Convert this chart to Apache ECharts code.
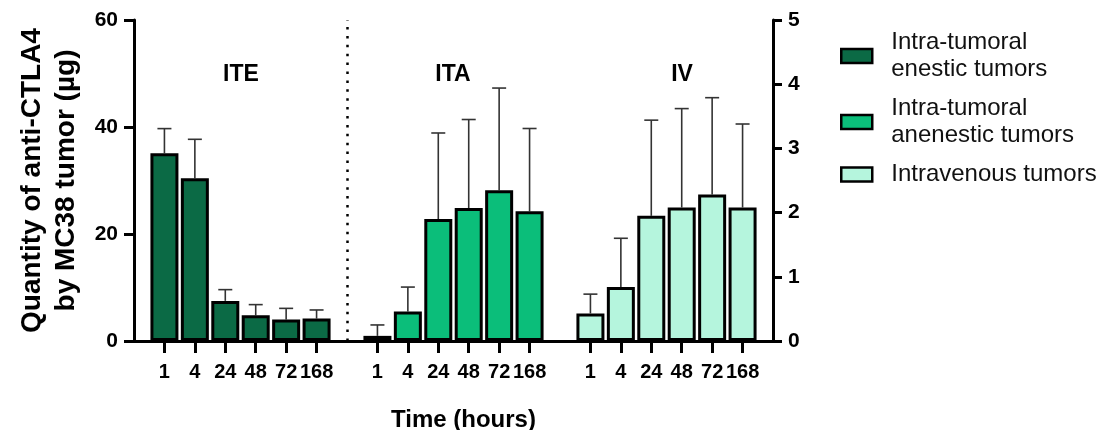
<!DOCTYPE html>
<html>
<head>
<meta charset="utf-8">
<script src="https://cdn.jsdelivr.net/npm/echarts@6/dist/echarts.min.js"></script>
<style>
  html, body { margin: 0; padding: 0; background: #fff; }
  #chart { width: 1104px; height: 430px; }
</style>
</head>
<body>
<div id="chart"></div>
<script>
// time points (hours), repeated for each group with an empty slot in between
const hours = ['1', '4', '24', '48', '72', '168'];
const groups = ['ITE', 'ITA', 'IV'];
const seriesNames = ['Intra-tumoral\nenestic tumors', 'Intra-tumoral\nanenestic tumors', 'Intravenous tumors'];

// ITE on left axis (0-60), ITA and IV on right axis (0-5)
const iteMean = [35.1, 30.4, 7.5, 4.8, 4.0, 4.2];
const iteSd   = [4.6, 7.3, 2.1, 2.0, 2.1, 1.6];
const itaMean = [0.08, 0.46, 1.90, 2.07, 2.35, 2.02];
const itaSd   = [0.17, 0.38, 1.34, 1.38, 1.59, 1.29];
const ivMean  = [0.43, 0.84, 1.95, 2.08, 2.28, 2.08];
const ivSd    = [0.30, 0.76, 1.49, 1.54, 1.51, 1.30];

const leftTicks = [0, 20, 40, 60];
const rightTicks = [0, 1, 2, 3, 4, 5];

const colors = ['#0b6a45', '#0bbe7a', '#b5f5dd'];
const FONT = 'Liberation Sans, Arial, sans-serif';

// category layout: '' | ITE x6 | '' | ITA x6 | '' | IV x6 | ''
let cats = [''];
const offsets = [];
groups.forEach(function (g) {
    offsets.push(cats.length);
    cats = cats.concat(hours);
    cats.push('');
});

function barData(vals, off) {
    const arr = cats.map(function () { return '-'; });
    vals.forEach(function (v, i) { arr[off + i] = v; });
    return arr;
}
function errData(mean, sd, off) {
    return mean.map(function (m, i) { return [off + i, m, +(m + sd[i]).toFixed(3)]; });
}

function renderErr(params, api) {
    const x = api.value(0);
    const p0 = api.coord([x, api.value(1)]);
    const p1 = api.coord([x, api.value(2)]);
    const st = { stroke: '#333', lineWidth: 1.6 };
    return {
        type: 'group',
        children: [
            { type: 'line', shape: { x1: p0[0], y1: p0[1], x2: p1[0], y2: p1[1] }, style: st },
            { type: 'line', shape: { x1: p1[0] - 7, y1: p1[1], x2: p1[0] + 7, y2: p1[1] }, style: st }
        ]
    };
}

const chart = echarts.init(document.getElementById('chart'), null, { renderer: 'canvas' });

const option = {
    animation: false,
    backgroundColor: '#fff',
    textStyle: { fontFamily: FONT },
    grid: { left: 134, right: 331, top: 20, bottom: 89, containLabel: false, outerBoundsMode: 'none' },
    legend: {
        orient: 'vertical',
        left: 835,
        top: 24,
        icon: 'rect',
        itemWidth: 31,
        itemHeight: 14,
        itemGap: 12,
        selectedMode: false,
        data: seriesNames,
        itemStyle: { borderColor: '#000', borderWidth: 2.5 },
        textStyle: { fontFamily: FONT, fontSize: 24, color: '#111', lineHeight: 27, padding: [0, 0, 0, 14] }
    },
    xAxis: {
        type: 'category',
        data: cats,
        boundaryGap: false,
        name: 'Time (hours)',
        nameLocation: 'middle',
        nameGap: 67,
        nameTextStyle: { fontFamily: FONT, fontSize: 24, fontWeight: 'bold', color: '#000', padding: [0, 0, 0, 20] },
        axisLine: { lineStyle: { color: '#000', width: 3 } },
        axisTick: {
            interval: function (i, v) { return v !== ''; },
            length: 12,
            lineStyle: { color: '#000', width: 3 }
        },
        axisLabel: {
            interval: 0,
            margin: 21,
            fontFamily: FONT, fontSize: 20, fontWeight: 'bold', color: '#000'
        },
        splitLine: { show: false }
    },
    yAxis: [
        {
            type: 'value',
            min: leftTicks[0], max: leftTicks[leftTicks.length - 1], interval: 20,
            name: 'Quantity of anti-CTLA4\nby MC38 tumor (µg)',
            nameLocation: 'middle',
            nameGap: 48,
            nameTextStyle: { fontFamily: FONT, fontSize: 28, fontWeight: 'bold', color: '#000', lineHeight: 34 },
            axisLine: { show: true, lineStyle: { color: '#000', width: 3 } },
            axisTick: { show: true, length: 10, lineStyle: { color: '#000', width: 3 } },
            axisLabel: { margin: 16, fontFamily: FONT, fontSize: 21, fontWeight: 'bold', color: '#000' },
            splitLine: { show: false }
        },
        {
            type: 'value',
            position: 'right',
            min: rightTicks[0], max: rightTicks[rightTicks.length - 1], interval: 1,
            axisLine: { show: true, lineStyle: { color: '#000', width: 3 } },
            axisTick: { show: true, length: 9, lineStyle: { color: '#000', width: 3 } },
            axisLabel: { margin: 15, fontFamily: FONT, fontSize: 21, fontWeight: 'bold', color: '#000' },
            splitLine: { show: false }
        }
    ],
    graphic: [
        { type: 'text', x: 241, y: 75, style: { text: groups[0], font: 'bold 23px ' + FONT, fill: '#000', textAlign: 'center', textVerticalAlign: 'middle' } },
        { type: 'text', x: 453, y: 75, style: { text: groups[1], font: 'bold 23px ' + FONT, fill: '#000', textAlign: 'center', textVerticalAlign: 'middle' } },
        { type: 'text', x: 682, y: 75, style: { text: groups[2], font: 'bold 23px ' + FONT, fill: '#000', textAlign: 'center', textVerticalAlign: 'middle' } }
    ],
    series: [
        {
            name: seriesNames[0], type: 'bar', yAxisIndex: 0,
            data: barData(iteMean, offsets[0]),
            barWidth: 28, barGap: '-100%', z: 3,
            itemStyle: { color: colors[0], borderColor: '#000', borderWidth: 3 },
            markLine: {
                silent: true, symbol: 'none', label: { show: false },
                lineStyle: { color: '#000', width: 2.5, type: [2.5, 6.4] },
                data: [{ xAxis: offsets[1] - 1 }]
            }
        },
        {
            name: seriesNames[1], type: 'bar', yAxisIndex: 1,
            data: barData(itaMean, offsets[1]),
            barWidth: 28, barGap: '-100%', z: 3,
            itemStyle: { color: colors[1], borderColor: '#000', borderWidth: 3 }
        },
        {
            name: seriesNames[2], type: 'bar', yAxisIndex: 1,
            data: barData(ivMean, offsets[2]),
            barWidth: 28, barGap: '-100%', z: 3,
            itemStyle: { color: colors[2], borderColor: '#000', borderWidth: 3 }
        },
        {
            type: 'custom', yAxisIndex: 0, z: 2,
            renderItem: renderErr,
            encode: { x: 0, y: [1, 2] },
            data: errData(iteMean, iteSd, offsets[0])
        },
        {
            type: 'custom', yAxisIndex: 1, z: 2,
            renderItem: renderErr,
            encode: { x: 0, y: [1, 2] },
            data: errData(itaMean, itaSd, offsets[1]).concat(errData(ivMean, ivSd, offsets[2]))
        }
    ]
};

chart.setOption(option);
</script>
</body>
</html>
